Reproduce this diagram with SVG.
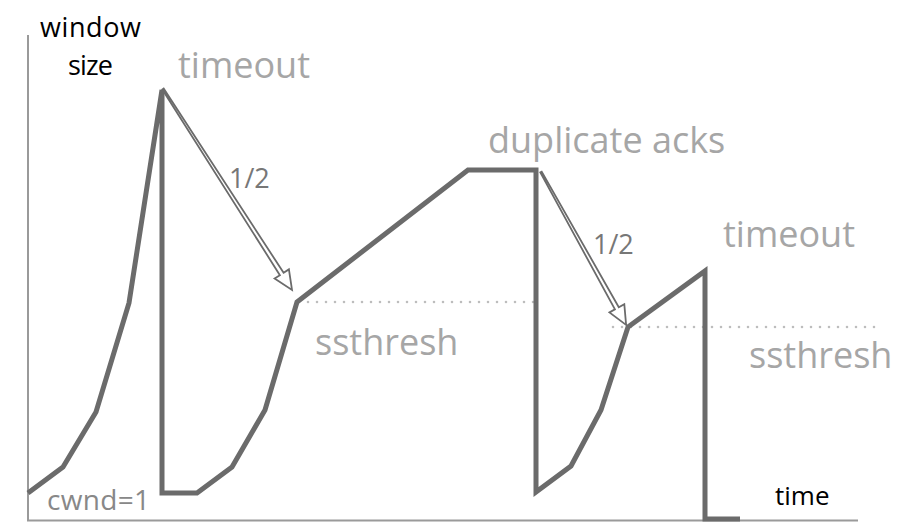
<svg xmlns="http://www.w3.org/2000/svg" width="898" height="531" viewBox="0 0 898 531">
<style>
.axis{stroke:#9a9a9a;stroke-width:2;fill:none}
.curve{stroke:#6b6b6b;stroke-width:5;fill:none;stroke-linejoin:miter;stroke-miterlimit:10}
.dots{stroke:#bdbdbd;stroke-width:2.6;stroke-linecap:round;stroke-dasharray:0 9;fill:none}
.arrow{fill:#fff;stroke:#6b6b6b;stroke-width:1.8;stroke-linejoin:miter}
.lbl{font-family:"Open Sans","DejaVu Sans",sans-serif;fill:#a6a6a6;font-size:36px}
.half{font-family:"Open Sans","DejaVu Sans",sans-serif;fill:#777;font-size:27px}
.ax{font-family:"Open Sans","DejaVu Sans",sans-serif;fill:#000;font-size:27px}
</style>
<rect width="898" height="531" fill="#fff"/>
<g id="axes">
<line class="axis" x1="28" y1="35" x2="28" y2="521"/>
<line class="axis" x1="27" y1="520.5" x2="858" y2="520.5"/>
</g>
<g id="thresholds">
<line class="dots" x1="299" y1="302" x2="536" y2="302"/>
<line class="dots" x1="613" y1="327" x2="877" y2="327"/>
</g>
<g id="cwnd-curve">
<polyline class="curve" points="28,493 63,467 96,412 129,303 162,90 162,493 197,493 232,467 265,410 297,302 468,170 536,170 536,492 571,466 601,410 628,327 705,271 705,519 740,519"/>
</g>
<g id="connectors">
<path class="arrow" transform="translate(163,89) rotate(57.3)" d="M0,-0.8 L219.8,-2.2 L219.8,-8.5 L238.8,0 L219.8,8.5 L219.8,2.2 L0,0.8 Z"/>
<path class="arrow" transform="translate(541,172) rotate(60.9)" d="M0,-0.8 L156,-2.2 L156,-8.5 L175,0 L156,8.5 L156,2.2 L0,0.8 Z"/>
</g>
<g id="labels">
<text class="ax" x="40" y="37" textLength="101">window</text>
<text class="ax" x="68" y="75" textLength="45">size</text>
<text class="lbl" x="178" y="78">timeout</text>
<text class="half" x="229" y="188">1/2</text>
<text class="lbl" x="488" y="153">duplicate acks</text>
<text class="half" x="593" y="254">1/2</text>
<text class="lbl" x="723" y="247">timeout</text>
<text class="lbl" x="315" y="355">ssthresh</text>
<text class="lbl" x="749" y="368">ssthresh</text>
<text class="half" x="47" y="510" style="fill:#888;font-size:28px" textLength="103">cwnd=1</text>
<text class="ax" x="775" y="505" style="font-size:26px">time</text>
</g>
</svg>
